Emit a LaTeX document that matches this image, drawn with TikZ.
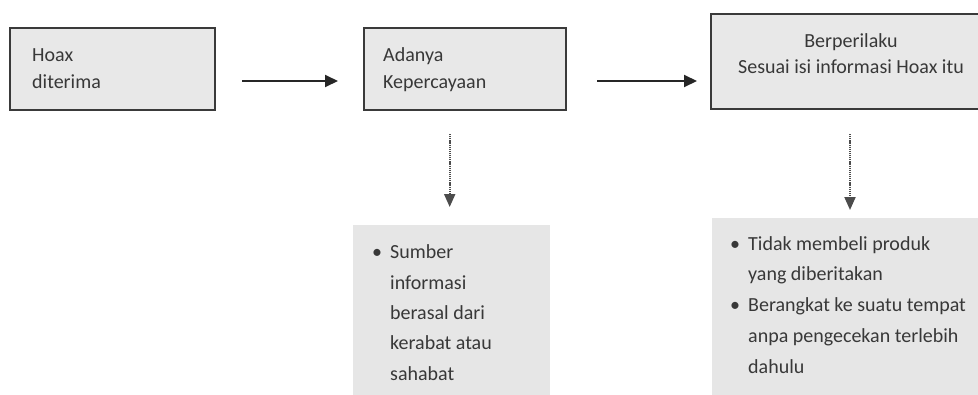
\documentclass[tikz,border=0pt]{standalone}
\usepackage{fontspec}
\setmainfont{Carlito}
\usetikzlibrary{arrows.meta,calc}
\definecolor{boxfill}{HTML}{E8E8E8}
\definecolor{listfill}{HTML}{E6E6E6}
\definecolor{boxline}{HTML}{3A3A3A}
\definecolor{txt}{HTML}{383838}
\begin{document}
\begin{tikzpicture}[x=1pt,y=-1pt,
  topbox/.style={draw=boxline, line width=2pt, fill=boxfill, rectangle, anchor=north west, inner sep=0pt},
  listbox/.style={fill=listfill, rectangle, anchor=north west, inner sep=0pt},
  boxtext/.style={text=txt, inner sep=0pt, anchor=base west, align=left, font=\fontsize{20}{27}\selectfont},
  listtext/.style={text=txt, inner sep=0pt, anchor=base west, align=left},
  solidarrow/.style={draw=black!85, line width=2pt, -{Triangle[length=13pt,width=12pt]}},
  dotarrow/.style={draw=black!70, line width=2pt, dash pattern=on 1.2pt off 0.9pt, -{Triangle[length=13pt,width=11pt]}}
]
\useasboundingbox (0,0) rectangle (978,394);
% top boxes
\node[topbox, minimum width=205pt, minimum height=82pt] (b1) at (9,27) {};
\node[topbox, minimum width=202pt, minimum height=82pt] (b2) at (363,27) {};
\node[topbox, minimum width=282pt, minimum height=95pt] (b3) at (710,13) {};
% list boxes
\node[listbox, minimum width=197pt, minimum height=180pt] (l1) at (353,225) {};
\node[listbox, minimum width=280pt, minimum height=180pt] (l2) at (712,218) {};
% texts (anchor base = baseline of last line)
\node[boxtext] (t1) at (32,88) {Hoax\\diterima};
\node[boxtext] (t2) at (383,88) {Adanya\\Kepercayaan};
\node[text=txt, inner sep=0pt, anchor=base, align=center, font=\fontsize{20}{26}\selectfont] (t3) at (851,73) {Berperilaku\\Sesuai isi informasi Hoax itu};
\node[listtext, font=\fontsize{20}{30.3}\selectfont] (t4) at (390,380) {\llap{•\hspace{8pt}}Sumber\\informasi\\berasal dari\\kerabat atau\\sahabat};
\node[listtext, font=\fontsize{20}{30.75}\selectfont] (t5) at (748,373) {\llap{•\hspace{8pt}}Tidak membeli produk\\yang diberitakan\\\llap{•\hspace{8pt}}Berangkat ke suatu tempat\\anpa pengecekan terlebih\\dahulu};
% arrow end points
\coordinate (a1s) at ($(b1.east)+(26,12)$);
\coordinate (a1e) at ($(b2.west)+(-25,12)$);
\coordinate (a2s) at ($(b2.east)+(30,12)$);
\coordinate (a2e) at ($(b3.west |- b2.east)+(-13,12)$);
\coordinate (d1s) at ($(l1.north |- b2.south)+(-2,23)$);
\coordinate (d1e) at ($(l1.north)+(-2,-18)$);
\coordinate (d2s) at ($(b3.south)+(-2,24)$);
\coordinate (d2e) at ($(b3.south)+(-2,100)$);
% arrows
\draw[solidarrow] (a1s) -- (a1e);
\draw[solidarrow] (a2s) -- (a2e);
\draw[dotarrow] (d1s) -- (d1e);
\draw[dotarrow] (d2s) -- (d2e);
\end{tikzpicture}
\end{document}
